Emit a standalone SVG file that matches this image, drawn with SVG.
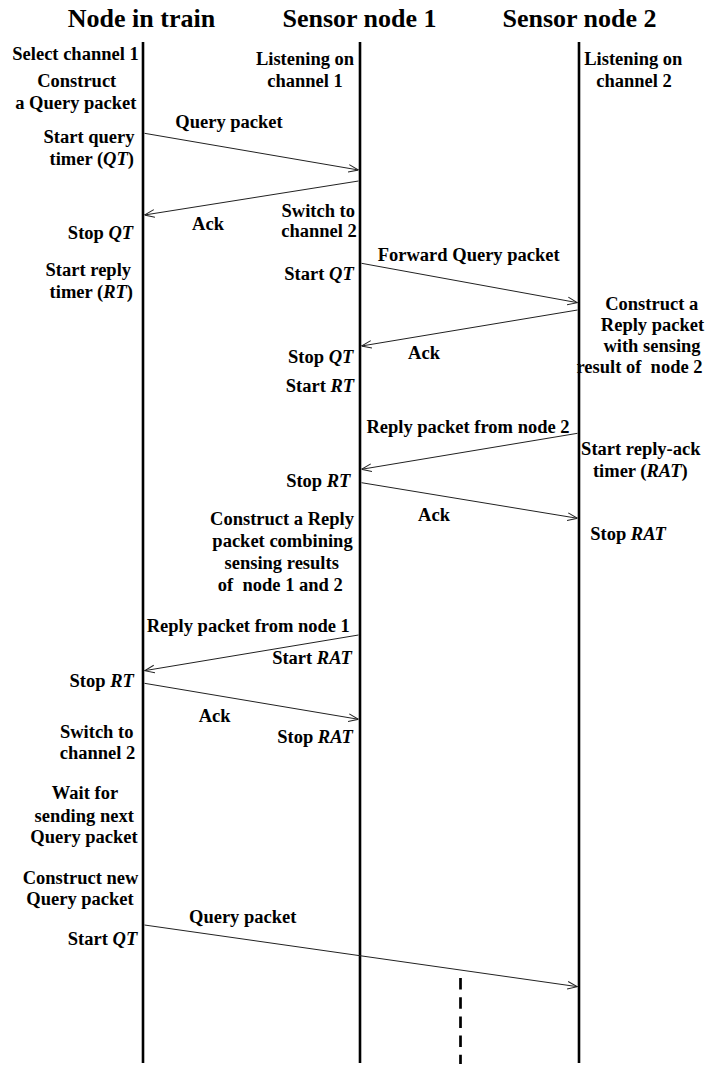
<svg xmlns="http://www.w3.org/2000/svg" width="717" height="1072" viewBox="0 0 717 1072">
<style>
text{font-family:"Liberation Serif","Times New Roman",serif;font-weight:bold;fill:#000;text-anchor:middle}
.title{font-size:26px}
.lbl{font-size:18.5px}
.i{font-style:italic}
.life{stroke:#000;stroke-width:2.6;fill:none}
.msg{stroke:#222;stroke-width:1;fill:none;marker-end:url(#arr)}
</style>
<defs>
<marker id="arr" viewBox="0 0 10 10" refX="10" refY="5" markerWidth="10" markerHeight="10" markerUnits="userSpaceOnUse" orient="auto">
<path d="M0,1.2 L10,5 L0,8.8" fill="none" stroke="#222" stroke-width="1"/>
</marker>
</defs>
<rect width="717" height="1072" fill="#fff"/>

<g id="node-train">
<text class="title" x="141.5" y="27">Node in train</text>
<line class="life" x1="143" y1="42" x2="143" y2="1063"/>
<text class="lbl" x="75.5" y="60">Select channel 1</text>
<text class="lbl" x="76.7" y="87.3">Construct</text>
<text class="lbl" x="75.8" y="109.3">a Query packet</text>
<text class="lbl" x="89" y="142.7">Start query</text>
<text class="lbl" x="91.7" y="165">timer (<tspan class="i">QT</tspan>)</text>
<text class="lbl" x="100.5" y="239.3">Stop <tspan class="i">QT</tspan></text>
<text class="lbl" x="88.3" y="276">Start reply</text>
<text class="lbl" x="91.3" y="298.3">timer (<tspan class="i">RT</tspan>)</text>
<text class="lbl" x="101.7" y="687.3">Stop <tspan class="i">RT</tspan></text>
<text class="lbl" x="96.7" y="738.3">Switch to</text>
<text class="lbl" x="97.5" y="759.3">channel 2</text>
<text class="lbl" x="85" y="799.3">Wait for</text>
<text class="lbl" x="84.2" y="821.7">sending next</text>
<text class="lbl" x="84" y="842.7">Query packet</text>
<text class="lbl" x="80.5" y="884">Construct new</text>
<text class="lbl" x="80" y="905">Query packet</text>
<text class="lbl" x="102.5" y="945">Start <tspan class="i">QT</tspan></text>
</g>

<g id="sensor-1">
<text class="title" x="359.5" y="27">Sensor node 1</text>
<line class="life" x1="360" y1="42" x2="360" y2="1063"/>
<text class="lbl" x="305" y="65">Listening on</text>
<text class="lbl" x="305" y="86.7">channel 1</text>
<text class="lbl" x="318.3" y="216.7">Switch to</text>
<text class="lbl" x="319" y="237.3">channel 2</text>
<text class="lbl" x="319" y="280">Start <tspan class="i">QT</tspan></text>
<text class="lbl" x="320.7" y="362.7">Stop <tspan class="i">QT</tspan></text>
<text class="lbl" x="320" y="391.7">Start <tspan class="i">RT</tspan></text>
<text class="lbl" x="318.3" y="486.7">Stop <tspan class="i">RT</tspan></text>
<text class="lbl" x="282" y="525">Construct a Reply</text>
<text class="lbl" x="282.5" y="546.7">packet combining</text>
<text class="lbl" x="281.7" y="569.3">sensing results</text>
<text class="lbl" x="280.3" y="590.7" xml:space="preserve">of  node 1 and 2</text>
<text class="lbl" x="312" y="664">Start <tspan class="i">RAT</tspan></text>
<text class="lbl" x="315" y="743.3">Stop <tspan class="i">RAT</tspan></text>
</g>

<g id="sensor-2">
<text class="title" x="579.5" y="27">Sensor node 2</text>
<line class="life" x1="579" y1="42" x2="579" y2="1063" stroke="#1a1a1a"/>
<text class="lbl" x="633.3" y="65">Listening on</text>
<text class="lbl" x="634" y="86.7">channel 2</text>
<text class="lbl" x="651.7" y="309.5">Construct a</text>
<text class="lbl" x="652.5" y="330.7">Reply packet</text>
<text class="lbl" x="652" y="351.7">with sensing</text>
<text class="lbl" x="639.5" y="372.7" xml:space="preserve">result of  node 2</text>
<text class="lbl" x="640.8" y="455">Start reply-ack</text>
<text class="lbl" x="640.3" y="477.3">timer (<tspan class="i">RAT</tspan>)</text>
<text class="lbl" x="628" y="540">Stop <tspan class="i">RAT</tspan></text>
</g>

<g id="connectors">
<line class="msg" x1="144.5" y1="133.3" x2="358.5" y2="170"/>
<line class="msg" x1="358.5" y1="181" x2="144.5" y2="215"/>
<line class="msg" x1="361.5" y1="263.3" x2="577.5" y2="302.7"/>
<line class="msg" x1="577.5" y1="310" x2="361.5" y2="346"/>
<line class="msg" x1="577.5" y1="433.3" x2="361.5" y2="469.3"/>
<line class="msg" x1="361.5" y1="482.7" x2="577.5" y2="518.3"/>
<line class="msg" x1="358.5" y1="635" x2="144.5" y2="670.7"/>
<line class="msg" x1="144.5" y1="683.3" x2="358.5" y2="719.3"/>
<line class="msg" x1="144.5" y1="925" x2="577.5" y2="986.7"/>
<text class="lbl" x="229" y="128.3">Query packet</text>
<text class="lbl" x="208" y="230">Ack</text>
<text class="lbl" x="468.7" y="260.7">Forward Query packet</text>
<text class="lbl" x="424" y="359.3">Ack</text>
<text class="lbl" x="468" y="433.3">Reply packet from node 2</text>
<text class="lbl" x="434" y="520.7">Ack</text>
<text class="lbl" x="248.3" y="631.7">Reply packet from node 1</text>
<text class="lbl" x="214.7" y="721.7">Ack</text>
<text class="lbl" x="242.7" y="922.7">Query packet</text>
<line x1="460.5" y1="978" x2="460.5" y2="1064" stroke="#000" stroke-width="2.7" stroke-dasharray="11.5 7.7"/>
</g>
</svg>
